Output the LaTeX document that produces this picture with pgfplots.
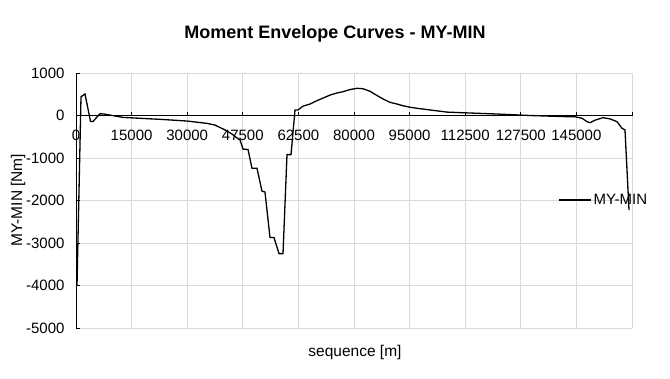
\documentclass[border=0pt]{standalone}
\usepackage{fontspec}
\setmainfont{Liberation Sans}
\usepackage{pgfplots}
\pgfplotsset{compat=1.18}
\begin{document}
\begin{tikzpicture}[x=1pt,y=1pt]
\useasboundingbox (0,0) rectangle (670,378);
\begin{axis}[
  at={(76pt,50pt)}, anchor=south west,
  width=556pt, height=255pt, scale only axis,
  xmin=0, xmax=10, ymin=-5000, ymax=1000,
  axis x line=middle, axis y line=left,
  axis line style={-, black, line width=0.9pt},
  hide obscured x ticks=false,
  xtick={0,1,2,3,4,5,6,7,8,9,10},
  xticklabels={0,15000,30000,47500,62500,80000,95000,112500,127500,145000,},
  ytick={-5000,-4000,-3000,-2000,-1000,0,1000},
  yticklabels={-5000,-4000,-3000,-2000,-1000,0,1000},
  xtick align=inside, ytick align=inside,
  major tick length=4pt,
  tick style={black, line width=0.8pt},
  grid=major,
  grid style={draw=black!15, line width=0.8pt},
  ticklabel style={font=\fontsize{15}{15}\selectfont},
  xticklabel style={yshift=-11pt},
  yticklabel style={xshift=-8pt},
  legend style={at={(rel axis cs:0.867,0.502)}, anchor=west, draw=none, fill=none,
    font=\fontsize{15}{15}\selectfont, inner sep=0pt},
  legend image code/.code={\draw[#1, line width=1.3pt] (0pt,0pt) -- (32pt,0pt);},
  legend cell align=left,
]
\addplot[black, line width=1.3pt, mark=none] coordinates {
(0.018,-4000) (0.090,440) (0.162,506) (0.261,-140) (0.306,-140) (0.378,-35)
(0.432,40) (0.504,35) (0.845,-45) (1.511,-90) (1.996,-130) (2.356,-185)
(2.500,-225) (2.680,-340) (2.806,-435) (2.896,-530) (2.950,-575) (3.004,-790)
(3.094,-800) (3.165,-1240) (3.255,-1240) (3.345,-1780) (3.399,-1800)
(3.489,-2870) (3.561,-2870) (3.651,-3250) (3.723,-3250) (3.795,-920)
(3.867,-920) (3.939,130) (3.993,130) (4.083,220) (4.209,270) (4.335,350)
(4.442,410) (4.568,480) (4.694,530) (4.802,560) (4.928,610) (5.054,640)
(5.162,630) (5.288,570) (5.414,470) (5.522,390) (5.647,310) (5.773,270)
(5.881,230) (6.007,195) (6.133,170) (6.313,140) (6.673,80) (6.960,65)
(7.572,35) (8.165,0) (8.759,-25) (8.975,-30) (9.101,-65) (9.191,-145)
(9.245,-170) (9.335,-110) (9.478,-50) (9.604,-80) (9.730,-145) (9.820,-300)
(9.874,-340) (9.946,-2220)
};
\addlegendentry{MY-MIN}
\end{axis}
\node[font=\fontsize{18}{18}\selectfont\bfseries] at (335,344) {Moment Envelope Curves - MY-MIN};
\node[font=\fontsize{15.5}{15.5}\selectfont] at (355,26) {sequence [m]};
\node[font=\fontsize{15.5}{15.5}\selectfont, rotate=90] at (18,178) {MY-MIN [Nm]};
\end{tikzpicture}
\end{document}
